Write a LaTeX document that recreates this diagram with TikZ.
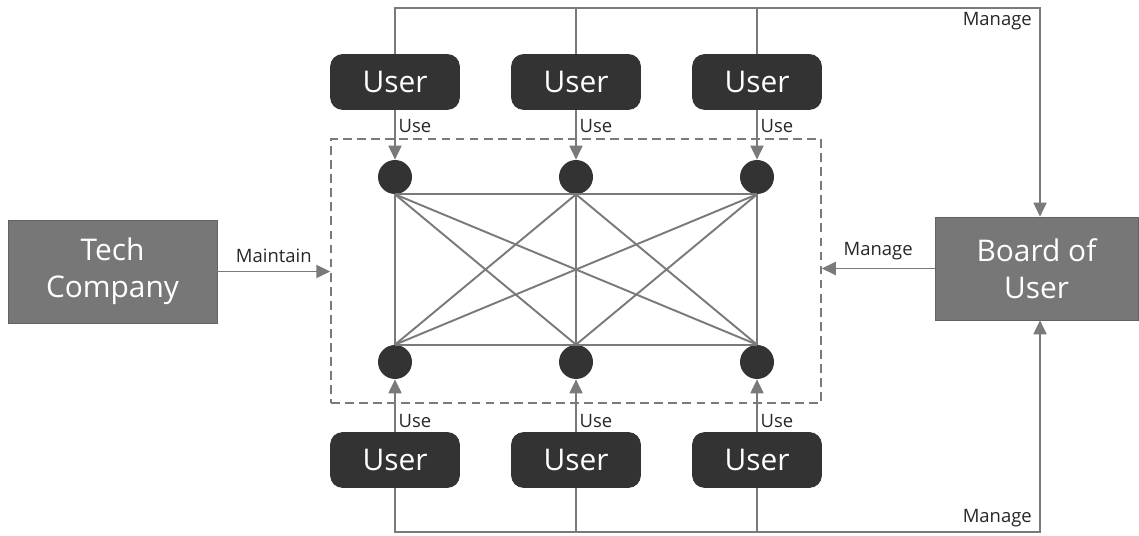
\documentclass[tikz,border=0pt]{standalone}
\usepackage{fontspec}
\setmainfont{Open Sans}
\usetikzlibrary{arrows.meta, positioning}

\definecolor{darkbox}{HTML}{333333}
\definecolor{midbox}{HTML}{777777}
\definecolor{wire}{HTML}{7A7A7A}

\tikzset{
  user/.style={draw=darkbox, fill=darkbox, rounded corners=0.24cm, text=white,
    minimum width=2.58cm, minimum height=1.1cm, font=\fontsize{17}{20}\selectfont},
  party/.style={draw=wire!80!black, fill=midbox, text=white, align=center,
    minimum width=4.1cm, minimum height=2.06cm, font=\fontsize{17}{21}\selectfont},
  peer/.style={circle, fill=darkbox, minimum size=0.68cm, inner sep=0pt},
  wireline/.style={draw=wire, line width=1.1pt},
  flow/.style={wireline, -{Triangle[length=0.28cm, width=0.26cm]}},
  tag/.style={font=\fontsize{10.5}{12}\selectfont, text=black!85, inner sep=1.5pt},
}

\begin{document}
\begin{tikzpicture}[x=0.02cm, y=-0.02cm]
        \useasboundingbox (0,0) rectangle (1139,536);

        % Network area
        \node[draw=wire, dashed, line width=0.9pt, dash pattern=on 5pt off 3pt,
          minimum width=9.8cm, minimum height=5.28cm] (net) at (576,271) {};

        % Peers
        \node[peer] (p1) at (395,177) {};
        \node[peer] (p2) at (576,177) {};
        \node[peer] (p3) at (757,177) {};
        \node[peer] (q1) at (395,362) {};
        \node[peer] (q2) at (576,362) {};
        \node[peer] (q3) at (757,362) {};

        % Mesh between peers
        \draw[wireline] (p1.south) -- (p2.south) -- (p3.south);
        \draw[wireline] (q1.north) -- (q2.north) -- (q3.north);
        \foreach \a in {p1,p2,p3}
          \foreach \b in {q1,q2,q3}
            \draw[wireline] (\a.south) -- (\b.north);

        % Users
        \node[user] (u1) at (395,82) {User};
        \node[user] (u2) at (576,82) {User};
        \node[user] (u3) at (757,82) {User};
        \node[user] (v1) at (395,460) {User};
        \node[user] (v2) at (576,460) {User};
        \node[user] (v3) at (757,460) {User};

        \draw[flow] (u1.south) -- node[tag, pos=0.32, right] {Use} (p1.north);
        \draw[flow] (u2.south) -- node[tag, pos=0.32, right] {Use} (p2.north);
        \draw[flow] (u3.south) -- node[tag, pos=0.32, right] {Use} (p3.north);
        \draw[flow] (v1.north) -- node[tag, pos=0.22, right] {Use} (q1.south);
        \draw[flow] (v2.north) -- node[tag, pos=0.22, right] {Use} (q2.south);
        \draw[flow] (v3.north) -- node[tag, pos=0.22, right] {Use} (q3.south);

        % Side parties
        \node[party, minimum width=4.18cm] (tech) at (112.5,271.5) {Tech\\Company};
        \node[party, minimum width=4.06cm] (board) at (1036.5,268.5) {Board of\\User};

        \draw[flow] (tech.east) -- node[tag, above=3pt] {Maintain} (tech.east -| net.west);
        \draw[flow] (board.west) -- node[tag, above=3pt] {Manage} (board.west -| net.east);

        % Management lines
        \coordinate (top) at (0,8);
        \coordinate (bot) at (0,532);
        \coordinate (topR) at (1040,8);
        \coordinate (botR) at (1040,532);
        \draw[wireline] (u2.north) -- (u2.north |- top);
        \draw[wireline] (u3.north) -- (u3.north |- top);
        \draw[flow] (u1.north) |- (topR) -- (topR |- board.north);
        \node[tag, below left=1pt and 3pt of topR] (mtop) {Manage};
        \draw[wireline] (v2.south) -- (v2.south |- bot);
        \draw[wireline] (v3.south) -- (v3.south |- bot);
        \draw[flow] (v1.south) |- (botR) -- (botR |- board.south);
        \node[tag, above left=1pt and 3pt of botR] (mbot) {Manage};
      \end{tikzpicture}
\end{document}
